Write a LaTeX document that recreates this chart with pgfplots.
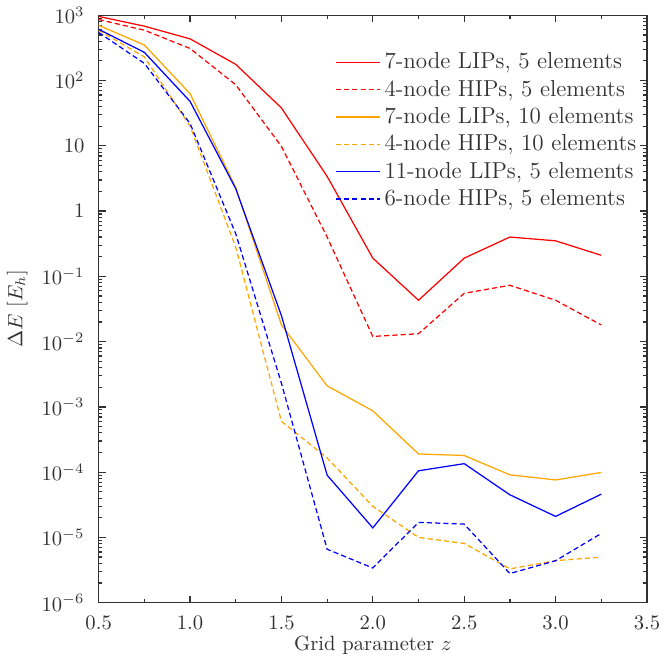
\documentclass[border=0pt]{standalone}
\usepackage{pgfplots}
\pgfplotsset{compat=1.18}
\definecolor{myorange}{RGB}{255,165,0}
\definecolor{txt}{RGB}{50,50,50}
\begin{document}
\begin{tikzpicture}
\begin{axis}[
  scale only axis,
  width=266pt, height=285pt,
  ymode=log,
  xmin=0.5, xmax=3.5, ymin=1e-6, ymax=1e3,
  xtick={0.5,1.0,1.5,2.0,2.5,3.0,3.5},
  xticklabels={0.5,1.0,1.5,2.0,2.5,3.0,3.5},
  minor xtick={0.75,1.25,1.75,2.25,2.75,3.25},
  ytick={1e-6,1e-5,1e-4,1e-3,1e-2,1e-1,1,10,100,1000},
  yticklabels={$10^{-6}$,$10^{-5}$,$10^{-4}$,$10^{-3}$,$10^{-2}$,$10^{-1}$,$1$,$10$,$10^{2}$,$10^{3}$},
  minor ytick={},
  tick align=inside,
  major tick length=3.4pt,
  minor tick length=1.7pt,
  axis line style={txt, line width=0.6pt},
  every tick/.style={txt, line width=0.6pt},
  tick label style={txt},
  yticklabel style={xshift=-3.4pt},
  xticklabel style={yshift=-3pt},
  label style={txt},
  xlabel style={yshift=4pt},
  xlabel={Grid parameter $z$},
  ylabel={$\Delta E\ [E_h]$},
  legend cell align=left,
  legend style={draw=none, fill=none, at={(1,1)}, anchor=north east, xshift=0pt, yshift=-14pt, font=\fontsize{11.2}{13.5}\selectfont\color{txt}},
  legend image code/.code={\draw[#1] (0cm,0cm) -- (0.75cm,0cm);},
  every axis plot/.append style={line width=0.6pt},
]
\addplot[red] coordinates {(0.5,960)(0.75,680)(1.0,435)(1.25,177)(1.5,38)(1.75,3.4)(2.0,0.19)(2.25,0.043)(2.5,0.19)(2.75,0.40)(3.0,0.35)(3.25,0.21)};
\addlegendentry{7-node LIPs, 5 elements}
\addplot[red, dash pattern=on 2.5pt off 1.5pt] coordinates {(0.5,860)(0.75,590)(1.0,310)(1.25,86)(1.5,9.8)(1.75,0.4)(2.0,0.012)(2.25,0.0132)(2.5,0.055)(2.75,0.073)(3.0,0.043)(3.25,0.018)};
\addlegendentry{4-node HIPs, 5 elements}
\addplot[myorange] coordinates {(0.5,700)(0.75,350)(1.0,63)(1.25,2.3)(1.5,0.018)(1.75,0.0021)(2.0,8.7e-4)(2.25,1.9e-4)(2.5,1.8e-4)(2.75,9.1e-5)(3.0,7.6e-5)(3.25,9.9e-5)};
\addlegendentry{7-node LIPs, 10 elements}
\addplot[myorange, dash pattern=on 2.5pt off 1.5pt] coordinates {(0.5,590)(0.75,230)(1.0,20)(1.25,0.28)(1.5,6e-4)(1.75,1.65e-4)(2.0,3.0e-5)(2.25,1.0e-5)(2.5,8.1e-6)(2.75,3.3e-6)(3.0,4.4e-6)(3.25,5.0e-6)};
\addlegendentry{4-node HIPs, 10 elements}
\addplot[blue] coordinates {(0.5,610)(0.75,270)(1.0,48)(1.25,2.2)(1.5,0.025)(1.75,9e-5)(2.0,1.4e-5)(2.25,1.05e-4)(2.5,1.35e-4)(2.75,4.5e-5)(3.0,2.1e-5)(3.25,4.6e-5)};
\addlegendentry{11-node LIPs, 5 elements}
\addplot[blue, dash pattern=on 2.5pt off 1.5pt] coordinates {(0.5,545)(0.75,183)(1.0,22)(1.25,0.45)(1.5,0.0023)(1.75,6.6e-6)(2.0,3.4e-6)(2.25,1.7e-5)(2.5,1.6e-5)(2.75,2.8e-6)(3.0,4.4e-6)(3.25,1.15e-5)};
\addlegendentry{6-node HIPs, 5 elements}
\end{axis}
\end{tikzpicture}
\end{document}
